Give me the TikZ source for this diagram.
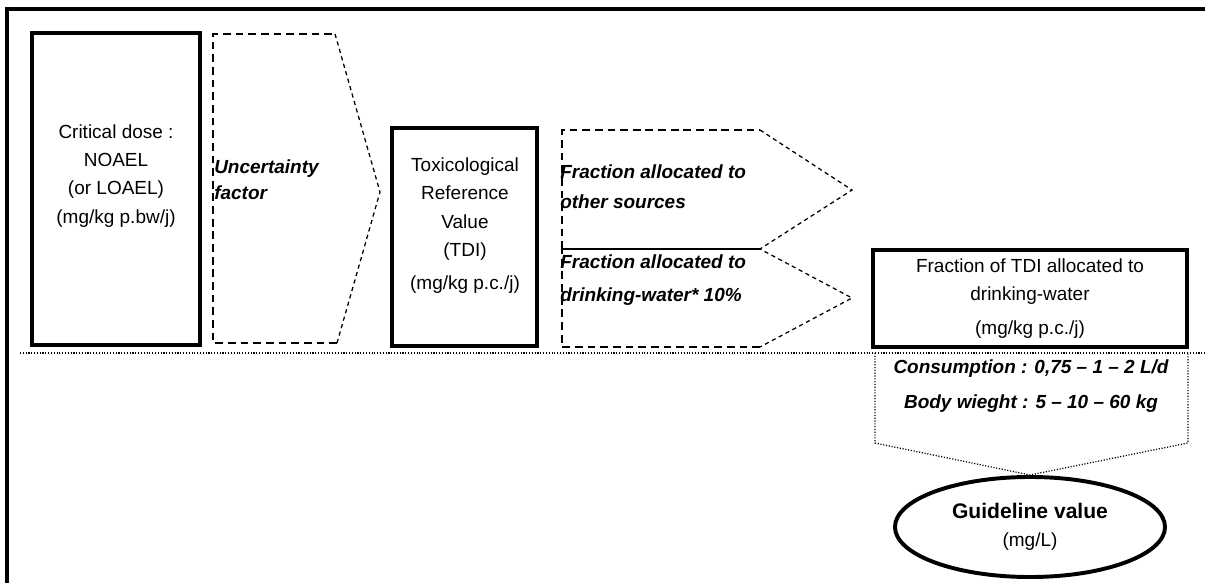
\documentclass[tikz,border=0pt]{standalone}
\usepackage{fontspec}
\setmainfont{Liberation Sans}
\usetikzlibrary{positioning,shapes.geometric}

\begin{document}
\begin{tikzpicture}[x=0.025cm,y=-0.025cm,
                    font=\fontsize{13.5}{20}\selectfont]
  \tikzstyle{thickbox}=[draw=black,line width=2.6pt,rectangle,inner sep=0pt]
  \tikzstyle{edgedash}=[line width=1.2pt,dash pattern=on 5.5pt off 3.5pt]
  \tikzstyle{tipdash}=[line width=0.9pt,dash pattern=on 3pt off 2.5pt]
  \tikzstyle{dots}=[line width=0.9pt,dash pattern=on 0.8pt off 1.2pt]
  \tikzstyle{label}=[align=center,inner sep=0pt]
  \tikzstyle{factor}=[align=left,inner sep=0pt,anchor=west]

  \useasboundingbox (0,0) rectangle (1205,583);

  % frame
  \draw[line width=2.2pt] (7,583) -- (7,9) -- (1205,9);

  % solid boxes
  \node[thickbox,minimum width=4.2cm,minimum height=7.8cm]   (crit) at (116,189) {};
  \node[thickbox,minimum width=3.625cm,minimum height=5.45cm] (trv) at (464.5,237) {};
  \node[thickbox,minimum width=7.85cm,minimum height=2.425cm,align=center] (tdi) at (1030,298.5)
       {Fraction of TDI allocated to\\ drinking-water\\[4pt] (mg/kg p.c./j)};
  \node[draw,ellipse,line width=2.8pt,minimum width=6.75cm,minimum height=2.5cm,
        inner sep=0pt,align=center] (guide) at (1030,527)
       {\fontsize{15}{23}\selectfont\bfseries Guideline value\\ (mg/L)};

  \node[label] (critlbl) at (116,176) {Critical dose :\\ NOAEL\\ (or LOAEL)\\ (mg/kg p.bw/j)};
  \node[label] (trvlbl)  at (465,226) {Toxicological\\ Reference\\ Value\\ (TDI)\\[4pt] (mg/kg p.c./j)};

  % uncertainty factor arrow
  \coordinate (u1) at (213,34);  \coordinate (u2) at (335,34);
  \coordinate (u3) at (380,192); \coordinate (u4) at (337,343);
  \coordinate (u5) at (213,343);
  \draw[edgedash] (u4) -- (u5) -- (u1) -- (u2);
  \draw[tipdash]  (u2) -- (u3) -- (u4);
  \node[factor,font=\fontsize{13.5}{18.5}\selectfont\bfseries\itshape] (unc) at (214,180)
       {Uncertainty\\ factor};

  % allocation arrows
  \coordinate (f1) at (562,130); \coordinate (f2) at (760,130);
  \coordinate (f3) at (852,190); \coordinate (f4) at (760,249);
  \coordinate (f5) at (562,249); \coordinate (f6) at (852,298);
  \coordinate (f7) at (760,347); \coordinate (f8) at (562,347);
  \draw[edgedash] (f5) -- (f1) -- (f2);
  \draw[tipdash]  (f2) -- (f3) -- (f4) -- (f6) -- (f7);
  \draw[line width=0.9pt] (f4) -- (f5);
  \draw[edgedash] (f7) -- (f8) -- (f5);
  \node[factor,font=\fontsize{13.5}{21.5}\selectfont\bfseries\itshape] (other) at (560,187)
       {Fraction allocated to\\ other sources};
  \node[factor,font=\fontsize{13.5}{23}\selectfont\bfseries\itshape] (water) at (560,280)
       {Fraction allocated to\\ drinking-water* 10\%};

  % separator
  \draw[dots] (20,353) -- (1205,353);

  % intake arrow
  \coordinate (d1) at (875,353);  \coordinate (d2) at (875,443);
  \coordinate (d3) at (1030,475); \coordinate (d4) at (1188,443);
  \coordinate (d5) at (1188,353);
  \draw[dots] (d1) -- (d2) -- (d3) -- (d4) -- (d5);
  \node[label,font=\fontsize{13.5}{25}\selectfont\bfseries\itshape] (intake) at (1031,386)
       {Consumption : 0,75 – 1 – 2 L/d\\ Body wieght : 5 – 10 – 60 kg};
\end{tikzpicture}
\end{document}
